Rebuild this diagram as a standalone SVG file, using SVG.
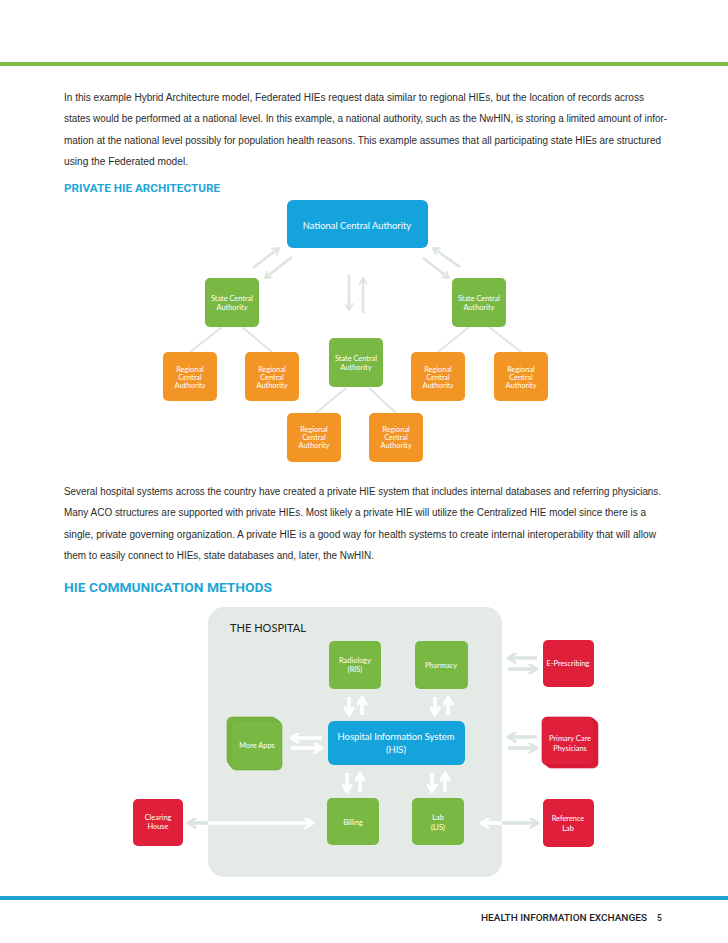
<svg xmlns="http://www.w3.org/2000/svg" width="728" height="943" viewBox="0 0 728 943">
<style>
.body{font-family:"Liberation Sans",Arial,sans-serif;font-size:10px;fill:#2b2b2b;}
.head{font-family:Roboto,"Liberation Sans",Arial,sans-serif;font-weight:bold;fill:#1fa6d6;}
.lbl{font-family:Lato,"Liberation Sans",Arial,sans-serif;font-size:7.4px;fill:#fff;text-anchor:middle;}
.lblb{font-family:Lato,"Liberation Sans",Arial,sans-serif;font-size:9.4px;fill:#fff;text-anchor:middle;}
.green{fill:#79b843;}
.orange{fill:#f29524;}
.blue{fill:#15a3db;}
.red{fill:#e01f3b;}
.tree{stroke:#dfe6e1;stroke-width:2;fill:none;}
.la{stroke:#dde5e0;stroke-width:2.6;fill:none;marker-end:url(#ahl);}
.lb{stroke:#dde5e0;stroke-width:3.6;fill:none;}
.wb{stroke:#ffffff;stroke-width:3.6;fill:none;}
</style>
<defs>
<marker id="ahl" viewBox="0 0 10 10" refX="8.5" refY="5" markerWidth="9" markerHeight="9" markerUnits="userSpaceOnUse" orient="auto-start-reverse"><path d="M2,1 L8.5,5 L2,9" fill="none" stroke="#dde5e0" stroke-width="2.2" stroke-linecap="round" stroke-linejoin="round"/></marker>
<marker id="ahg" viewBox="0 0 10 10" refX="8.5" refY="5" markerWidth="11" markerHeight="11" markerUnits="userSpaceOnUse" orient="auto-start-reverse"><path d="M2,1 L8.5,5 L2,9" fill="none" stroke="#dde5e0" stroke-width="2.6" stroke-linecap="round" stroke-linejoin="round"/></marker>
<marker id="ahw" viewBox="0 0 10 10" refX="8.5" refY="5" markerWidth="11" markerHeight="11" markerUnits="userSpaceOnUse" orient="auto-start-reverse"><path d="M2,1 L8.5,5 L2,9" fill="none" stroke="#ffffff" stroke-width="2.6" stroke-linecap="round" stroke-linejoin="round"/></marker>
</defs>
<rect width="728" height="943" fill="#ffffff"/>
<rect x="0" y="62" width="728" height="4" fill="#7dbb4a"/>
<rect x="0" y="896" width="728" height="4" fill="#1ca3cf"/>

<g id="para1">
<text class="body" x="64" y="100.5" textLength="580" lengthAdjust="spacingAndGlyphs">In this example Hybrid Architecture model, Federated HIEs request data similar to regional HIEs, but the location of records across</text>
<text class="body" x="64" y="122" textLength="603" lengthAdjust="spacingAndGlyphs">states would be performed at a national level. In this example, a national authority, such as the NwHIN, is storing a limited amount of infor-</text>
<text class="body" x="64" y="143.5" textLength="597" lengthAdjust="spacingAndGlyphs">mation at the national level possibly for population health reasons. This example assumes that all participating state HIEs are structured</text>
<text class="body" x="64" y="165" textLength="124" lengthAdjust="spacingAndGlyphs">using the Federated model.</text>
</g>
<text class="head" x="64" y="192" font-size="11" textLength="156" lengthAdjust="spacingAndGlyphs">PRIVATE HIE ARCHITECTURE</text>

<g id="para2">
<text class="body" x="64" y="494.5" textLength="597" lengthAdjust="spacingAndGlyphs">Several hospital systems across the country have created a private HIE system that includes internal databases and referring physicians.</text>
<text class="body" x="64" y="516" textLength="582" lengthAdjust="spacingAndGlyphs">Many ACO structures are supported with private HIEs. Most likely a private HIE will utilize the Centralized HIE model since there is a</text>
<text class="body" x="64" y="537.5" textLength="592" lengthAdjust="spacingAndGlyphs">single, private governing organization.  A private HIE is a good way for health systems to create internal interoperability that will allow</text>
<text class="body" x="64" y="559" textLength="310" lengthAdjust="spacingAndGlyphs">them to easily connect to HIEs, state databases and, later, the NwHIN.</text>
</g>
<text class="head" x="64" y="592" font-size="13" textLength="208" lengthAdjust="spacingAndGlyphs">HIE COMMUNICATION METHODS</text>

<g id="hospital">
<rect x="208" y="607" width="294" height="270" rx="16" fill="#e4ebe7"/>
<text x="230" y="632" font-family="Lato,'Liberation Sans',Arial,sans-serif" font-size="10.5" fill="#222" textLength="76" lengthAdjust="spacingAndGlyphs">THE HOSPITAL</text>
</g>

<g id="connectors">
<path class="tree" d="M222,327 L190,352 M242,327 L272,352 M469,327 L438,352 M489,327 L521,352 M346,388 L316,413 M369,388 L396,413"/>
<path class="la" d="M253,268 L279,248"/>
<path class="la" d="M292,257 L265,278"/>
<path class="la" d="M460,267 L433,248"/>
<path class="la" d="M423,258 L449,278"/>
<path class="la" d="M349,275 L349,310"/>
<path class="la" d="M363,313 L363,278"/>

<path class="wb" d="M349,697 L349,715" marker-end="url(#ahw)"/>
<path class="wb" d="M362,715 L362,697" marker-end="url(#ahw)"/>
<path class="wb" d="M435,697 L435,715" marker-end="url(#ahw)"/>
<path class="wb" d="M448,715 L448,697" marker-end="url(#ahw)"/>
<path class="wb" d="M347,773 L347,792" marker-end="url(#ahw)"/>
<path class="wb" d="M360,792 L360,773" marker-end="url(#ahw)"/>
<path class="wb" d="M432,773 L432,792" marker-end="url(#ahw)"/>
<path class="wb" d="M445,792 L445,773" marker-end="url(#ahw)"/>
<path class="wb" d="M322,738 L291,738" marker-end="url(#ahw)"/>
<path class="wb" d="M291,748 L322,748" marker-end="url(#ahw)"/>
<path class="lb" d="M537,658 L508,658" marker-end="url(#ahg)"/>
<path class="lb" d="M508,669 L537,669" marker-end="url(#ahg)"/>
<path class="lb" d="M537,737 L508,737" marker-end="url(#ahg)"/>
<path class="lb" d="M508,748 L537,748" marker-end="url(#ahg)"/>
<path class="wb" d="M481,823 L503,823" marker-start="url(#ahw)"/>
<path class="lb" d="M502,823 L538,823" marker-end="url(#ahg)"/>
<path class="lb" d="M188,823 L209,823" marker-start="url(#ahg)"/>
<path class="wb" d="M208,823 L313,823" marker-end="url(#ahw)"/>
</g>

<g id="nca"><rect class="blue" x="287" y="200" width="141" height="48" rx="6"/><text class="lblb" x="357" y="228.5">National Central Authority</text></g>
<g id="sca-left"><rect class="green" x="205" y="278" width="54" height="49" rx="5"/><text class="lbl" x="232" y="300.5">State Central</text><text class="lbl" x="232" y="309.5">Authority</text></g>
<g id="sca-right"><rect class="green" x="452" y="278" width="54" height="49" rx="5"/><text class="lbl" x="479" y="300.5">State Central</text><text class="lbl" x="479" y="309.5">Authority</text></g>
<g id="sca-center"><rect class="green" x="329" y="338" width="54" height="49" rx="5"/><text class="lbl" x="356" y="360.5">State Central</text><text class="lbl" x="356" y="369.5">Authority</text></g>
<g id="rca-1"><rect class="orange" x="163" y="352" width="54" height="49" rx="5"/><text class="lbl" x="190" y="371.5">Regional</text><text class="lbl" x="190" y="379.5">Central</text><text class="lbl" x="190" y="387.5">Authority</text></g>
<g id="rca-2"><rect class="orange" x="245" y="352" width="54" height="49" rx="5"/><text class="lbl" x="272" y="371.5">Regional</text><text class="lbl" x="272" y="379.5">Central</text><text class="lbl" x="272" y="387.5">Authority</text></g>
<g id="rca-3"><rect class="orange" x="411" y="352" width="54" height="49" rx="5"/><text class="lbl" x="438" y="371.5">Regional</text><text class="lbl" x="438" y="379.5">Central</text><text class="lbl" x="438" y="387.5">Authority</text></g>
<g id="rca-4"><rect class="orange" x="494" y="352" width="54" height="49" rx="5"/><text class="lbl" x="521" y="371.5">Regional</text><text class="lbl" x="521" y="379.5">Central</text><text class="lbl" x="521" y="387.5">Authority</text></g>
<g id="rca-5"><rect class="orange" x="287" y="413" width="54" height="49" rx="5"/><text class="lbl" x="314" y="431.5">Regional</text><text class="lbl" x="314" y="439.5">Central</text><text class="lbl" x="314" y="447.5">Authority</text></g>
<g id="rca-6"><rect class="orange" x="369" y="413" width="54" height="49" rx="5"/><text class="lbl" x="396" y="431.5">Regional</text><text class="lbl" x="396" y="439.5">Central</text><text class="lbl" x="396" y="447.5">Authority</text></g>

<g id="radiology"><rect class="green" x="329" y="641" width="52" height="48" rx="5"/><text class="lbl" x="355" y="662.5">Radiology</text><text class="lbl" x="355" y="671.5">(RIS)</text></g>
<g id="pharmacy"><rect class="green" x="415" y="641" width="53" height="48" rx="5"/><text class="lbl" x="441" y="667.5">Pharmacy</text></g>
<g id="his"><rect class="blue" x="328" y="721" width="137" height="44" rx="6"/><text class="lblb" x="396" y="740">Hospital Information System</text><text class="lblb" x="396" y="753">(HIS)</text></g>
<g id="more-apps">
<rect class="green" x="227" y="717" width="50" height="48" rx="5" stroke="#6aa839" stroke-width="0.6"/>
<rect class="green" x="229" y="719" width="51" height="49" rx="5" stroke="#6aa839" stroke-width="0.6"/>
<rect class="green" x="231" y="721" width="51" height="49" rx="5" stroke="#6aa839" stroke-width="0.6"/>
<text class="lbl" x="257" y="747.5">More Apps</text></g>
<g id="billing"><rect class="green" x="327" y="798" width="52" height="47" rx="5"/><text class="lbl" x="353" y="824.5">Billing</text></g>
<g id="lab"><rect class="green" x="412" y="798" width="52" height="47" rx="5"/><text class="lbl" x="438" y="819.5">Lab</text><text class="lbl" x="438" y="829.5">(LIS)</text></g>
<g id="e-prescribing"><rect class="red" x="543" y="640" width="51" height="47" rx="5"/><text class="lbl" x="568" y="665.5">E-Prescribing</text></g>
<g id="primary-care">
<rect class="red" x="546" y="720" width="52" height="48" rx="5" stroke="#c81630" stroke-width="0.6"/>
<rect class="red" x="544" y="718" width="52" height="48" rx="5" stroke="#c81630" stroke-width="0.6"/>
<rect class="red" x="542" y="717" width="52" height="48" rx="5" stroke="#c81630" stroke-width="0.6"/>
<text class="lbl" x="570" y="740.5">Primary Care</text><text class="lbl" x="570" y="750.5">Physicians</text></g>
<g id="reference-lab"><rect class="red" x="543" y="799" width="51" height="48" rx="5"/><text class="lbl" x="568" y="820.5">Reference</text><text class="lbl" x="568" y="830.5">Lab</text></g>
<g id="clearing-house"><rect class="red" x="133" y="799" width="50" height="47" rx="5"/><text class="lbl" x="158" y="819.5">Clearing</text><text class="lbl" x="158" y="828.5">House</text></g>

<g id="footer">
<text x="481" y="921" font-family="Roboto,'Liberation Sans',Arial,sans-serif" font-size="8.6" font-weight="500" fill="#222" textLength="166" lengthAdjust="spacingAndGlyphs">HEALTH INFORMATION EXCHANGES</text>
<text x="657" y="921" font-family="Roboto,'Liberation Sans',Arial,sans-serif" font-size="8.6" font-weight="500" fill="#222">5</text>
</g>
</svg>
